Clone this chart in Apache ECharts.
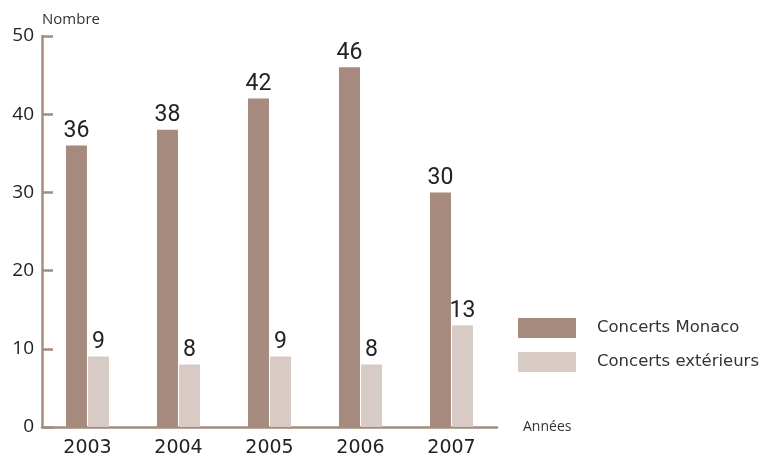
<!DOCTYPE html>
<html>
<head>
<meta charset="utf-8">
<script src="https://cdn.jsdelivr.net/npm/echarts@6/dist/echarts.min.js"></script>
<style>html,body{margin:0;padding:0;background:#fff}#c{width:783px;height:458px}</style>
</head>
<body>
<div id="c"></div>
<script>
const categories = ['2003', '2004', '2005', '2006', '2007'];
const monaco = [36, 38, 42, 46, 30];
const exterieurs = [9, 8, 9, 8, 13];
const yTicks = [0, 10, 20, 30, 40, 50];

const chart = echarts.init(document.getElementById('c'));
const labelStyle = {show: true, position: 'top', distance: 3, color: '#222', fontSize: 23,
  fontFamily: 'Roboto'};
chart.setOption({
  animation: false,
  grid: {left: 42, right: 286, top: 36, bottom: 31, containLabel: false},
  legend: {
    orient: 'vertical', left: 518, top: 318, itemWidth: 58, itemHeight: 20, itemGap: 14,
    padding: 0, icon: 'rect',
    textStyle: {fontSize: 16.5, color: '#333', fontFamily: 'DejaVu Sans', padding: [0, 0, 0, 16]},
    data: ['Concerts Monaco', 'Concerts extérieurs']
  },
  xAxis: {
    type: 'category', data: categories,
    name: 'Années', nameLocation: 'end', nameGap: 26,
    nameTextStyle: {fontSize: 14, color: '#333', fontFamily: 'Open Sans', verticalAlign: 'middle', align: 'left', padding: [0, 0, 4, 0]},
    axisLine: {lineStyle: {color: '#a68b7e', width: 2.5}},
    axisTick: {show: false},
    axisLabel: {fontSize: 19, color: '#222', fontFamily: 'DejaVu Sans', margin: 12}
  },
  yAxis: {
    type: 'value', min: 0, max: 50, interval: 10,
    name: 'Nombre', nameLocation: 'end', nameGap: 9,
    nameTextStyle: {fontSize: 15, color: '#333', fontFamily: 'Open Sans', align: 'left', padding: [0, 0, 0, 0]},
    axisLine: {show: true, lineStyle: {color: '#a68b7e', width: 2.5}},
    axisTick: {show: true, inside: true, length: 11, lineStyle: {color: '#a68b7e', width: 2.5}},
    splitLine: {show: false},
    axisLabel: {fontSize: 19, color: '#222', fontFamily: 'Open Sans', margin: 8,
      formatter: v => yTicks.includes(v) ? String(v) : ''}
  },
  series: [
    {name: 'Concerts Monaco', type: 'bar', data: monaco, barWidth: 21, barGap: '5%',
     itemStyle: {color: '#a68a7d'}, label: labelStyle},
    {name: 'Concerts extérieurs', type: 'bar', data: exterieurs, barWidth: 21,
     itemStyle: {color: '#d8cbc6'}, label: labelStyle}
  ]
});
</script>
</body>
</html>
